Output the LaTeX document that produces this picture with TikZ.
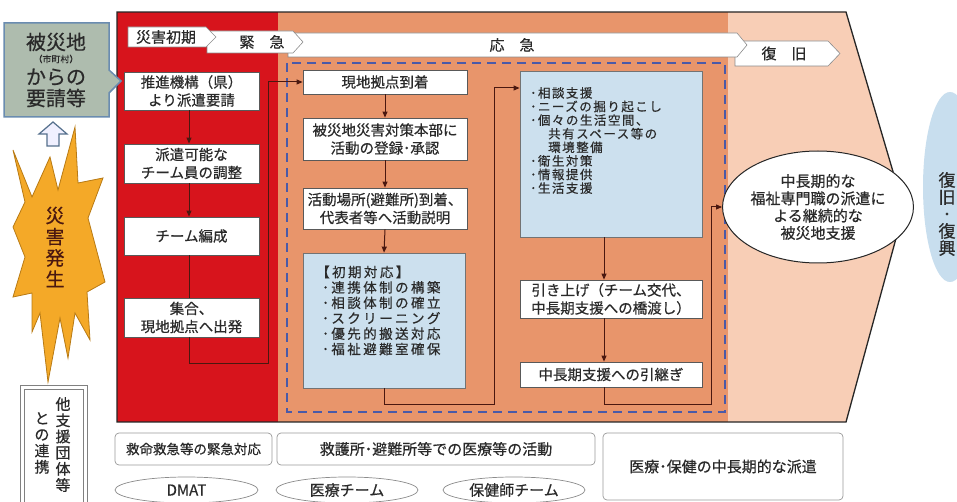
\documentclass[tikz,border=0pt]{standalone}
\usepackage{fontspec}
\setmainfont{Noto Sans CJK JP}[FakeBold=0.5]
\usetikzlibrary{arrows.meta,shapes.geometric,calc}
\newcommand\mylistA{\fontsize{12.5}{13.6}\selectfont\addfontfeature{LetterSpace=12}\lineskiplimit-20pt\relax}
\newcommand\mylistB{\fontsize{13.5}{15.4}\selectfont\addfontfeature{LetterSpace=18}\lineskiplimit-20pt\relax}
\definecolor{redbg}{HTML}{D7141C}
\definecolor{salmon}{HTML}{E8956B}
\definecolor{peach}{HTML}{F8CEB6}
\definecolor{lblue}{HTML}{CCE0EE}
\definecolor{dblue}{HTML}{4A5AA8}
\definecolor{arrowc}{HTML}{4A1810}
\definecolor{reqfill}{HTML}{AEBCAE}
\definecolor{reqdraw}{HTML}{6A8CB0}
\definecolor{burst}{HTML}{F4A928}
\definecolor{burstd}{HTML}{B87A14}
\definecolor{txt}{HTML}{2A2A2A}
\definecolor{farblue}{HTML}{C8DEEE}
\begin{document}
\begin{tikzpicture}[x=1pt,y=-1pt,
  wbox/.style={draw=black!65,line width=0.8pt,fill=white,inner sep=1pt,align=center,text=txt,font=\fontsize{14.5}{18}\selectfont},
  bbox/.style={draw=black!55,line width=0.8pt,fill=lblue,inner sep=0pt},
  ltext/.style={inner sep=0pt,align=left,text=txt,anchor=west},
  banner/.style={draw=black!45,line width=0.6pt,fill=white},
  btext/.style={inner sep=0pt,text=txt,font=\fontsize{15}{17}\selectfont},
  gbox/.style={draw=black!40,line width=0.7pt,fill=white,rounded corners=4pt,inner sep=0pt,text=txt,font=\fontsize{15}{17}\selectfont},
  gell/.style={ellipse,draw=black!45,line width=0.7pt,fill=white,inner sep=0pt,text=txt,font=\fontsize{15}{17}\selectfont},
  conn/.style={draw=arrowc,line width=1pt},
  arr/.style={conn,-{Triangle[length=6pt,width=5pt]}}
]
\useasboundingbox (0,0) rectangle (957,502);
\fill[white] (0,0) rectangle (957,502);

% ---- background regions ----
\fill[redbg] (117,12) rectangle (278,422);
\fill[salmon] (278,12) rectangle (728,422);
\fill[peach] (728,12) -- (846,12) -- (904,209) -- (846,422) -- (728,422) -- cycle;
\draw[black!85,line width=1.3pt] (117,12) -- (846,12) -- (904,209) -- (846,422) -- (117,422) -- cycle;

% ---- banners ----
\draw[banner] (735,41) -- (828,41) -- (840,53.5) -- (828,66) -- (735,66) -- cycle;
\node[btext] (tfk) at (784,53.5) {復　旧};
\draw[banner] (288,33) -- (737,33) -- (747,45) -- (737,57) -- (288,57) -- cycle;
\node[btext] (tok) at (512,45) {応　急};
\draw[banner] (207,31) -- (293,31) -- (303,42) -- (293,53) -- (207,53) -- cycle;
\node[btext] (tkk) at (262,42) {緊　急};
\draw[banner] (128,27) -- (206,27) -- (216,37) -- (206,47) -- (128,47) -- cycle;
\node[btext] (tsk) at (166,37) {災害初期};

% ---- dashed frame ----
\draw[dblue,line width=2.6pt,dash pattern=on 9pt off 6pt] (287,63) rectangle (725,412);

% ---- left column ----
\node[wbox,minimum width=135pt,minimum height=38pt] (b1) at (191.5,91) {推進機構（県）\\より派遣要請};
\node[wbox,minimum width=135pt,minimum height=39pt] (b2) at (191.5,163.5) {派遣可能な\\チーム員の調整};
\node[wbox,minimum width=135pt,minimum height=38pt] (b3) at (191.5,236) {チーム編成};
\node[wbox,minimum width=135pt,minimum height=39pt] (b4) at (191.5,317.5) {集合、\\現地拠点へ出発};

% ---- middle column ----
\node[wbox,minimum width=164pt,minimum height=24pt] (m1) at (385,82) {現地拠点到着};
\node[wbox,minimum width=164pt,minimum height=42pt] (m2) at (385,139) {被災地災害対策本部に\\活動の登録･承認};
\node[wbox,minimum width=164pt,minimum height=41pt] (m3) at (385,208.5) {活動場所(避難所)到着、\\代表者等へ活動説明};
\node[bbox,minimum width=162pt,minimum height=135pt] (m4) at (384,320.5) {};
\node[ltext,font=\mylistB] (m4t) at (316,310.5) {【初期対応】\\\hspace*{6pt}･連携体制の構築\\\hspace*{6pt}･相談体制の確立\\\hspace*{6pt}･スクリーニング\\\hspace*{6pt}･優先的搬送対応\\\hspace*{6pt}･福祉避難室確保};

% ---- right column ----
\node[bbox,minimum width=182pt,minimum height=166pt] (r1) at (611,154) {};
\node[ltext,font=\mylistA] (r1t) at (530,140.5) {･相談支援\\･ニーズの掘り起こし\\･個々の生活空間、\\\hspace*{18pt}共有スペース等の\\\hspace*{18pt}環境整備\\･衛生対策\\･情報提供\\･生活支援};
\node[wbox,minimum width=182pt,minimum height=38pt] (r2) at (611,299) {引き上げ（チーム交代、\\中長期支援への橋渡し）};
\node[wbox,minimum width=182pt,minimum height=25pt] (r3) at (611,374.5) {中長期支援への引継ぎ};

% ---- long-term ellipse ----
\node[ellipse,draw=black!85,line width=1pt,fill=white,minimum width=172pt,minimum height=112pt,inner sep=0pt,align=center,text=txt,font=\fontsize{15}{17.3}\selectfont] (e1) at (818,207) {中長期的な\\福祉専門職の派遣に\\よる継続的な\\被災地支援};

% ---- connectors ----
\coordinate (lx) at (189,0);
\coordinate (rx) at (604,0);
\coordinate (j1) at (268,363);
\coordinate (j3) at (494,404);
\coordinate (j4) at (494,88);
\coordinate (j5) at (711,404);
\draw[arr] (lx |- b1.south) -- (lx |- b2.north);
\draw[arr] (lx |- b2.south) -- (lx |- b3.north);
\draw[conn] (lx |- b3.south) -- (lx |- b4.north);
\draw[arr] (lx |- b4.south) |- (j1) |- (m1.west);
\draw[arr] (m1.south) -- (m2.north);
\draw[arr] (m2.south) -- (m3.north);
\draw[arr] (m3.south) -- (m4.north);
\draw[arr] (m4.south) |- (j3) -- (j4) -- (j4 -| r1.west);
\draw[arr] (rx |- r1.south) -- (rx |- r2.north);
\draw[arr] (rx |- r2.south) -- (rx |- r3.north);
\draw[arr] (rx |- r3.south) |- (j5) |- (e1.west);

% ---- left side: request box ----
\draw[fill=reqfill,draw=reqdraw,line width=1.5pt] (4,23) -- (109,23) -- (109,70) -- (121,81) -- (109,93) -- (109,117) -- (4,117) -- cycle;
\node[inner sep=0pt,text=txt,font=\fontsize{20}{22}\selectfont] (q1) at (56,42) {被災地};
\node[inner sep=0pt,text=txt,font=\fontsize{9}{10}\selectfont] (q2) at (56,59) {（市町村）};
\node[inner sep=0pt,text=txt,font=\fontsize{20}{22}\selectfont] (q3) at (56,77) {からの};
\node[inner sep=0pt,text=txt,font=\fontsize{20}{22}\selectfont] (q4) at (56,98) {要請等};

% up block arrow
\draw[fill=blue!6,draw=reqdraw!80!black,line width=1.2pt] (53,122) -- (67,134) -- (59,134) -- (59,146) -- (47,146) -- (47,134) -- (39,134) -- cycle;

% starburst
\draw[fill=burst,draw=burstd,line width=0.8pt] (13,150) -- (32,197) -- (50,157) -- (58,190) -- (75,127) -- (78,183) -- (103,178) -- (88,218) -- (105,282) -- (87,292) -- (90,340) -- (75,313) -- (68,358) -- (60,318) -- (48,382) -- (40,313) -- (32,332) -- (32,293) -- (13,297) -- (25,257) -- (13,227) -- (25,202) -- cycle;
\node[inner sep=0pt,align=center,text=arrowc,font=\fontsize{19}{21.2}\selectfont] (sb) at (55,247) {災\\害\\発\\生};

% other organisations box
\draw[black!50,line width=0.8pt] (20,502) -- (20,385) -- (87,385) -- (87,502);
\draw[black!50,line width=0.8pt] (24,502) -- (24,389) -- (83,389) -- (83,502);
\node[inner sep=0pt,align=center,text=txt,font=\fontsize{15}{16.2}\selectfont,anchor=north] (o1) at (63,397) {他\\支\\援\\団\\体\\等};
\node[inner sep=0pt,align=center,text=txt,font=\fontsize{15}{16.2}\selectfont,anchor=north] (o2) at (42,412) {と\\の\\連\\携};

% ---- far right ----
\fill[farblue] (950,187) ellipse [x radius=27, y radius=95];
\node[inner sep=0pt,align=center,text=txt,font=\fontsize{17}{17}\selectfont] (fr) at (947,214) {復\\旧\\･\\復\\興};

% ---- bottom row ----
\node[gbox,minimum width=157pt,minimum height=32pt,font=\fontsize{13.5}{15}\selectfont] (bt1) at (193.5,449) {救命救急等の緊急対応};
\node[gbox,minimum width=318pt,minimum height=32pt] (bt2) at (436,449) {救護所･避難所等での医療等の活動};
\node[gbox,minimum width=240pt,minimum height=67pt] (bt3) at (723,466.5) {医療･保健の中長期的な派遣};
\node[gell,minimum width=143pt,minimum height=26pt] (el1) at (186.5,490) {DMAT};
\node[gell,minimum width=142pt,minimum height=26pt] (el2) at (347,490) {医療チーム};
\node[gell,minimum width=142pt,minimum height=26pt] (el3) at (514,490) {保健師チーム};
\end{tikzpicture}
\end{document}
